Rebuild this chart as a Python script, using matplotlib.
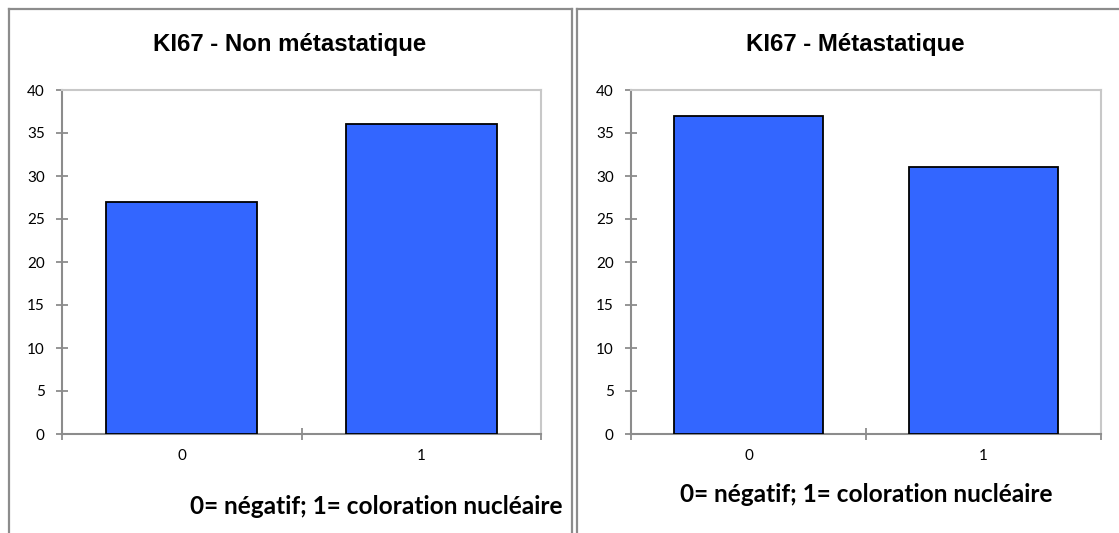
import matplotlib
matplotlib.use("Agg")
import matplotlib.pyplot as plt
from matplotlib.lines import Line2D

categories = ["0", "1"]
values_non_meta = [27, 36]
values_meta = [37, 31]
titles = ["KI67 - Non métastatique", "KI67 - Métastatique"]
xlabel_text = "0= négatif; 1= coloration nucléaire"
yticks = [0, 5, 10, 15, 20, 25, 30, 35, 40]

W, H = 1119, 533
fig = plt.figure(figsize=(W / 100, H / 100), dpi=100)
fig.patch.set_facecolor("white")

def fx(px):
    return px / W

def fy(py):
    return 1 - py / H

# panel frames
for x0, x1, right in [(9, 572, True), (577, 1125, False)]:
    c = "#8c8c8c"
    fig.add_artist(Line2D([fx(x0), fx(x0)], [fy(9), fy(540)], color=c, lw=1.6, transform=fig.transFigure))
    fig.add_artist(Line2D([fx(x0), fx(x1)], [fy(9), fy(9)], color=c, lw=1.6, transform=fig.transFigure))
    if right:
        fig.add_artist(Line2D([fx(x1), fx(x1)], [fy(9), fy(540)], color=c, lw=1.6, transform=fig.transFigure))

panels = [
    dict(vals=values_non_meta, title=titles[0], x0=62, x1=541, tx=290, lx=563, lha="right", ly=506),
    dict(vals=values_meta, title=titles[1], x0=631, x1=1101, tx=855, lx=866, lha="center", ly=494),
]

for p in panels:
    y0, y1 = 90, 434
    ax = fig.add_axes([fx(p["x0"]), fy(y1), fx(p["x1"] - p["x0"]), (y1 - y0) / H])
    xs = list(range(len(categories)))
    ax.bar(xs, p["vals"], width=0.63, color="#3366FF", edgecolor="black", linewidth=1.3, zorder=3)
    ax.set_xlim(-0.5, len(categories) - 0.5)
    ax.set_ylim(0, 40)
    ax.set_yticks(yticks)
    ax.set_yticklabels([str(v) for v in yticks], fontsize=11, family="Lato")
    ax.set_xticks([i - 0.5 for i in range(len(categories) + 1)])
    ax.set_xticklabels([])
    ax.set_xticks(xs, minor=True)
    ax.set_xticklabels(categories, minor=True, fontsize=11, family="Lato")
    ax.tick_params(axis="x", which="minor", length=0, pad=11)
    ax.tick_params(axis="x", which="major", direction="inout", length=9, width=1.3, color="#8c8c8c")
    ax.tick_params(axis="y", direction="inout", length=9, width=1.3, color="#8c8c8c", pad=8)
    for s in ["left", "bottom"]:
        ax.spines[s].set_color("#8c8c8c")
        ax.spines[s].set_linewidth(1.5)
    for s in ["top", "right"]:
        ax.spines[s].set_color("#c8c8c8")
        ax.spines[s].set_linewidth(1.5)
    fig.text(fx(p["tx"]), fy(44), p["title"], ha="center", va="center",
             fontsize=17.3, fontweight="bold", family="Liberation Sans")
    fig.text(fx(p["lx"]), fy(p["ly"]), xlabel_text, ha=p["lha"], va="center",
             fontsize=17.6, fontweight="bold", family="Lato")

fig.savefig("out.png", dpi=100)
